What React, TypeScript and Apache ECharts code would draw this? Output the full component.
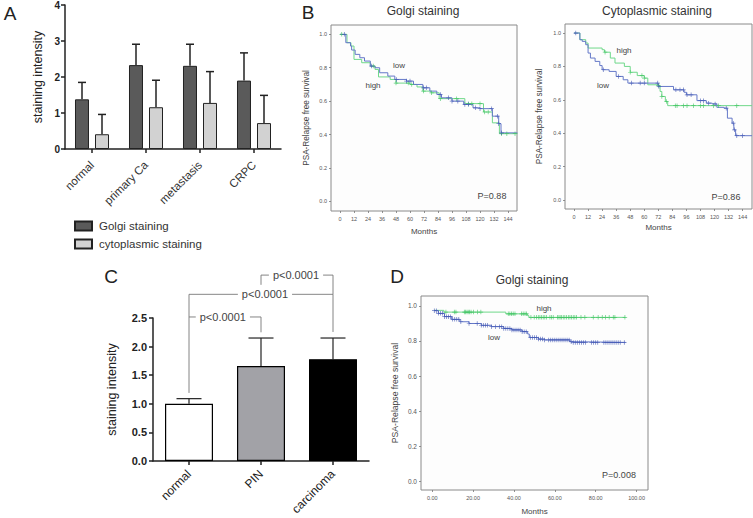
import React, { useEffect, useRef } from "react";
import * as echarts from "echarts";

// Panel A
const catsA = ["normal", "primary Ca", "metastasis", "CRPC"];
const golgiA = [1.38, 2.33, 2.31, 1.9];
const golgiTopA = [1.85, 2.91, 2.91, 2.67];
const cytoA = [0.41, 1.16, 1.28, 0.72];
const cytoTopA = [0.96, 1.91, 2.15, 1.49];

// Panel C
const catsC = ["normal", "PIN", "carcinoma"];
const valuesC = [1.0, 1.66, 1.78];
const topsC = [1.09, 2.15, 2.15];
const bracketPaths = [
  [[0, 1.19], [0, 2.914], [2, 2.914], [2, 2.256]],
  [[0, 2.518], [1, 2.518], [1, 2.25]],
  [[1, 3.08], [1, 3.25], [2, 3.25], [2, 2.914]],
];
const bracketLabels = [
  { text: "p<0.0001", cat: 1, frac: 0.055, y: 2.914 },
  { text: "p<0.0001", cat: 0, frac: 0.47, y: 2.518 },
  { text: "p<0.0001", cat: 1, frac: 0.486, y: 3.25 },
];

// Panel B left: Golgi
const bLow = [[0, 1], [5, 0.95], [9, 0.93], [10, 0.906], [13, 0.88], [17, 0.86], [21, 0.84], [26, 0.81], [30, 0.8], [34, 0.77], [41, 0.75], [47, 0.73], [57, 0.72], [63, 0.7], [71, 0.68], [77, 0.66], [83, 0.64], [87, 0.62], [96, 0.6], [106, 0.58], [114, 0.56], [120, 0.555], [130.6, 0.51], [136, 0.465], [138, 0.41], [152, 0.41]];
const bHigh = [[0, 1], [6, 0.95], [9.4, 0.93], [12, 0.85], [18.6, 0.83], [26, 0.81], [30, 0.79], [33, 0.745], [43, 0.73], [48, 0.708], [60, 0.7], [66, 0.685], [71, 0.66], [78, 0.65], [85, 0.615], [107, 0.585], [123, 0.535], [130.6, 0.47], [136.6, 0.405], [152, 0.405]];
const bLowCensor = [3.7, 27, 48.5, 57, 60, 71.5, 74, 86, 93, 96, 101, 107, 110, 116, 120, 130, 135, 136, 138.5];
const bHighCensor = [1.5, 28.5, 48, 58.5, 61.5, 71.5, 78.5, 86, 100, 110, 113, 120, 124, 127, 138.5, 143, 150];

// Panel B right: cytoplasmic
const cLow = [[0, 1], [5, 0.96], [7, 0.95], [10, 0.93], [12, 0.88], [14, 0.85], [18, 0.83], [22, 0.805], [24, 0.78], [30, 0.77], [36, 0.74], [42, 0.72], [46, 0.7], [72, 0.68], [85, 0.66], [94, 0.645], [96, 0.63], [105, 0.595], [113, 0.58], [118, 0.575], [122, 0.555], [128, 0.55], [131, 0.49], [135, 0.46], [136.5, 0.42], [138, 0.385], [152, 0.385]];
const cHigh = [[0, 1], [5, 0.96], [10, 0.94], [12, 0.91], [24, 0.9], [26, 0.885], [31, 0.85], [35, 0.82], [43, 0.8], [48, 0.765], [54, 0.745], [60, 0.73], [63, 0.69], [72, 0.685], [73.5, 0.65], [75, 0.62], [78, 0.59], [80, 0.565], [152, 0.565]];
const cLowCensor = [1.5, 25, 38, 49, 56.5, 60, 71.5, 72.5, 87, 90.5, 93.5, 96.5, 100, 108, 110.5, 115, 120.5, 130, 136, 137, 139, 144];
const cHighCensor = [26.5, 48, 58, 60, 72, 75, 79, 86.5, 88, 93.5, 96.5, 102, 108, 110.5, 119, 123.5, 139];

// Panel D
const dLow = [[1, 0.973], [3, 0.958], [6, 0.939], [9.5, 0.924], [13.5, 0.91], [18, 0.9], [24, 0.89], [29, 0.882], [35, 0.872], [39, 0.863], [44, 0.853], [46.7, 0.84], [47.5, 0.82], [52, 0.811], [55, 0.806], [67.4, 0.796], [68.2, 0.792], [94.6, 0.792]];
const dHigh = [[1, 0.975], [5.7, 0.965], [36, 0.955], [46.6, 0.945], [47.3, 0.935], [94.6, 0.935]];
const dLowCensor = [1, 2, 3, 4, 5, 6, 7, 8, 9, 10, 11, 12, 13, 14, 18, 22, 24, 25, 26, 27, 29, 31, 33, 34, 35, 36, 37, 38, 39, 40, 41, 42, 43, 44, 45, 46, 48, 49, 50, 51, 52, 53, 54, 55, 57, 58, 59, 60, 61, 62, 63, 64, 65, 66, 67, 68, 69, 70, 71, 72, 73, 74, 75, 78, 79, 80, 81, 84, 85, 86, 87, 88, 89, 90, 91, 92, 94];
const dHighCensor = [6.7, 10.8, 11.6, 15.7, 16.3, 17, 17.6, 18.3, 19, 20.2, 22.2, 23.8, 37.2, 38, 38.8, 39.6, 40.5, 43.7, 44.5, 45.4, 46.2, 48.3, 49.9, 51, 51.9, 52.7, 53.5, 54.3, 55.1, 56, 57.6, 58.4, 59.2, 61.3, 62, 62.6, 63.3, 64.1, 64.9, 65.7, 66.6, 67.4, 68.2, 69, 69.8, 70.6, 72.8, 74.7, 78.8, 81.2, 83.2, 84.8, 86.6, 88.6, 89.4, 94.3];

const ticks12 = [0, 12, 24, 36, 48, 60, 72, 84, 96, 108, 120, 132, 144];
const ticks20 = [0, 20, 40, 60, 80, 100];
const ticksSurv = [0, 0.2, 0.4, 0.6, 0.8, 1.0];

const FONT = '"Liberation Sans", Arial, sans-serif';
const BLUE = "#6478c8";
const GREEN = "#6fd88a";
const BLUE_MARK = "#4257b4";
const GREEN_MARK = "#3fc462";
const PLUS = "path://M-0.8 -5H0.8V-0.8H5V0.8H0.8V5H-0.8V0.8H-5V-0.8H-0.8Z";

const stepAt = (curve: number[][], m: number) => {
  let v = curve[0][1];
  for (const p of curve) if (p[0] <= m) v = p[1];
  return v;
};

type KM = {
  grid: number;
  box: { left: number; top: number; width: number; height: number };
  xRange: [number, number];
  yRange: [number, number];
  xTicks: number[];
  xFmt: (v: number) => string;
  yGap: number;
  xGap: number;
  low: number[][];
  high: number[][];
  lowCensor: number[];
  highCensor: number[];
  yNameSize: number;
  yTickSize: number;
};

function kmParts(k: KM) {
  const grid = {
    ...k.box,
    show: true,
    backgroundColor: "#fdfdfd",
    borderColor: "#8a8a8a",
    borderWidth: 1,
    containLabel: false,
    outerBoundsMode: "none",
  };
  const xAxis = {
    type: "value",
    gridIndex: k.grid,
    min: k.xRange[0],
    max: k.xRange[1],
    name: "Months",
    nameLocation: "middle",
    nameGap: k.xGap,
    nameTextStyle: { fontFamily: FONT, fontSize: 8, color: "#444" },
    axisLine: { show: false, onZero: false },
    axisTick: { show: true, length: 2, customValues: k.xTicks, lineStyle: { color: "#777", width: 0.8 } },
    axisLabel: { customValues: k.xTicks, formatter: k.xFmt, fontFamily: FONT, fontSize: 5.5, color: "#555", margin: 5 },
    splitLine: { show: false },
  };
  const yAxis = {
    type: "value",
    gridIndex: k.grid,
    min: k.yRange[0],
    max: k.yRange[1],
    name: "PSA-Relapse free survival",
    nameLocation: "middle",
    nameGap: k.yGap,
    nameTextStyle: { fontFamily: FONT, fontSize: k.yNameSize, color: "#444" },
    axisLine: { show: false, onZero: false },
    axisTick: { show: true, length: 2, customValues: ticksSurv, lineStyle: { color: "#777", width: 0.8 } },
    axisLabel: { customValues: ticksSurv, formatter: (v: number) => v.toFixed(1), fontFamily: FONT, fontSize: k.yTickSize, color: "#555", margin: 4 },
    splitLine: { show: false },
  };
  const line = (name: string, data: number[][], color: string) => ({
    type: "line",
    name,
    step: "end",
    xAxisIndex: k.grid,
    yAxisIndex: k.grid,
    data,
    showSymbol: false,
    symbol: "none",
    lineStyle: { color, width: 1 },
    z: 3,
  });
  const marks = (name: string, months: number[], curve: number[][], color: string) => ({
    type: "scatter",
    name,
    xAxisIndex: k.grid,
    yAxisIndex: k.grid,
    data: months.map((m) => [m, stepAt(curve, m)]),
    symbol: PLUS,
    symbolSize: 4.5,
    itemStyle: { color },
    z: 4,
  });
  const id = `km${k.grid}`;
  return {
    grid,
    xAxis,
    yAxis,
    series: [
      line(`${id} high`, k.high, GREEN),
      line(`${id} low`, k.low, BLUE),
      marks(`${id} high censored`, k.highCensor, k.high, GREEN_MARK),
      marks(`${id} low censored`, k.lowCensor, k.low, BLUE_MARK),
    ],
  };
}

const errorSeries = (name: string, xi: number, yi: number, tops: number[], bases: number[], offset: number, cap: number, width: number) => ({
  type: "custom",
  name,
  xAxisIndex: xi,
  yAxisIndex: yi,
  data: tops.map((t, i) => [i, bases[i], t]),
  encode: { x: 0, y: [1, 2] },
  z: 1,
  renderItem: (_: any, api: any) => {
    const base = api.coord([api.value(0), api.value(1)]);
    const top = api.coord([api.value(0), api.value(2)]);
    const x = base[0] + offset;
    const style = { stroke: "#222", lineWidth: width, fill: "none" };
    return {
      type: "group",
      children: [
        { type: "line", shape: { x1: x, y1: base[1], x2: x, y2: top[1] }, style },
        { type: "line", shape: { x1: x - cap, y1: top[1], x2: x + cap, y2: top[1] }, style },
      ],
    };
  },
});

const barAxisStyle = {
  axisLine: { show: true, onZero: false, lineStyle: { color: "#222", width: 1.5 } },
  axisTick: { show: true, length: 4, lineStyle: { color: "#222", width: 1.5 } },
  splitLine: { show: false },
};

const annot = (text: string, x: number, y: number, fontSize = 8, fill = "#444") => ({
  type: "text",
  x,
  y,
  style: { text, fontFamily: FONT, fontSize, fill, align: "center", verticalAlign: "middle" },
});

function buildOption() {
  const kmB = kmParts({
    grid: 2,
    box: { left: 331, top: 25, width: 186, height: 186 },
    xRange: [-7.7, 151.7],
    yRange: [-0.058, 1.056],
    xTicks: ticks12,
    xFmt: (v) => String(v),
    yGap: 21,
    xGap: 16,
    low: bLow,
    high: bHigh,
    lowCensor: bLowCensor,
    highCensor: bHighCensor,
    yNameSize: 8.2,
    yTickSize: 5.5,
  });
  const kmC = kmParts({
    grid: 3,
    box: { left: 565, top: 24, width: 187, height: 185 },
    xRange: [-7.7, 152],
    yRange: [-0.054, 1.054],
    xTicks: ticks12,
    xFmt: (v) => String(v),
    yGap: 22,
    xGap: 14,
    low: cLow,
    high: cHigh,
    lowCensor: cLowCensor,
    highCensor: cHighCensor,
    yNameSize: 8.2,
    yTickSize: 5.5,
  });
  const kmD = kmParts({
    grid: 4,
    box: { left: 421, top: 296, width: 227, height: 194 },
    xRange: [-5.5, 105.6],
    yRange: [-0.051, 1.057],
    xTicks: ticks20,
    xFmt: (v) => v.toFixed(2),
    yGap: 22,
    xGap: 17,
    low: dLow,
    high: dHigh,
    lowCensor: dLowCensor,
    highCensor: dHighCensor,
    yNameSize: 8.6,
    yTickSize: 6.5,
  });

  return {
    animation: false,
    backgroundColor: "#fff",
    title: [
      { text: "Golgi staining", left: 418, top: 0, textAlign: "center", textStyle: { fontFamily: FONT, fontSize: 12, fontWeight: "normal", color: "#333" } },
      { text: "Cytoplasmic staining", left: 652, top: 0, textAlign: "center", textStyle: { fontFamily: FONT, fontSize: 12, fontWeight: "normal", color: "#333" } },
      { text: "Golgi staining", left: 527, top: 269, textAlign: "center", textStyle: { fontFamily: FONT, fontSize: 12, fontWeight: "normal", color: "#333" } },
    ],
    legend: {
      left: 74,
      top: 220,
      orient: "vertical",
      icon: "rect",
      itemWidth: 17,
      itemHeight: 9,
      itemGap: 6,
      padding: 0,
      selectedMode: false,
      data: ["Golgi staining", "cytoplasmic staining"],
      textStyle: { fontFamily: FONT, fontSize: 11.5, color: "#333", padding: [0, 0, 0, 2] },
    },
    grid: [
      { left: 65, top: 5, width: 216, height: 144, outerBoundsMode: "none" },
      { left: 153, top: 318, width: 216, height: 143, outerBoundsMode: "none" },
      kmB.grid,
      kmC.grid,
      kmD.grid,
    ],
    xAxis: [
      {
        type: "category", gridIndex: 0, data: catsA, ...barAxisStyle,
        axisTick: { ...barAxisStyle.axisTick, alignWithLabel: true },
        axisLabel: { rotate: 45, fontFamily: FONT, fontSize: 11.5, color: "#333", margin: 14 },
      },
      {
        type: "category", gridIndex: 1, data: catsC, ...barAxisStyle,
        axisTick: { ...barAxisStyle.axisTick, alignWithLabel: true },
        axisLabel: { rotate: 45, fontFamily: FONT, fontSize: 12, fontWeight: 500, color: "#222", margin: 11 },
      },
      kmB.xAxis,
      kmC.xAxis,
      kmD.xAxis,
    ],
    yAxis: [
      {
        type: "value", gridIndex: 0, min: 0, max: 4, interval: 1, ...barAxisStyle,
        name: "staining intensity", nameLocation: "middle", nameGap: 21,
        nameTextStyle: { fontFamily: FONT, fontSize: 12.5, color: "#222" },
        axisLabel: { fontFamily: FONT, fontSize: 10, fontWeight: "bold", color: "#222", margin: 5 },
      },
      {
        type: "value", gridIndex: 1, min: 0, max: 2.5, interval: 0.5, ...barAxisStyle,
        name: "staining intensity", nameLocation: "middle", nameGap: 35,
        nameTextStyle: { fontFamily: FONT, fontSize: 12.5, color: "#222" },
        axisLabel: { formatter: (v: number) => v.toFixed(1), fontFamily: FONT, fontSize: 11, fontWeight: "bold", color: "#222", margin: 6 },
      },
      kmB.yAxis,
      kmC.yAxis,
      kmD.yAxis,
    ],
    series: [
      errorSeries("Golgi error", 0, 0, golgiTopA, golgiA, -10, 4, 1.5),
      errorSeries("Cytoplasmic error", 0, 0, cytoTopA, cytoA, 10, 4, 1.5),
      {
        type: "bar", name: "Golgi staining", xAxisIndex: 0, yAxisIndex: 0, data: golgiA, barWidth: 14, barGap: "43%", z: 2,
        itemStyle: { color: "#5a5a5a", borderColor: "#222", borderWidth: 1 },
      },
      {
        type: "bar", name: "cytoplasmic staining", xAxisIndex: 0, yAxisIndex: 0, data: cytoA, barWidth: 14, barGap: "43%", z: 2,
        itemStyle: { color: "#d2d2d2", borderColor: "#222", borderWidth: 1 },
      },
      errorSeries("C error", 1, 1, topsC, valuesC, 0, 12.5, 1.2),
      {
        type: "bar", name: "C staining", xAxisIndex: 1, yAxisIndex: 1, barWidth: 48, z: 2,
        data: valuesC.map((v, i) => ({ value: v, itemStyle: { color: ["#ffffff", "#a2a2a7", "#000000"][i] } })),
        itemStyle: { borderColor: "#000", borderWidth: 1.2 },
      },
      {
        type: "custom", name: "brackets", xAxisIndex: 1, yAxisIndex: 1, z: 1,
        data: bracketPaths.map((p, i) => [p[0][0], p[0][1], i]),
        encode: { x: 0, y: 1 },
        renderItem: (params: any, api: any) => ({
          type: "polyline",
          shape: { points: bracketPaths[params.dataIndex].map((p) => api.coord(p)) },
          style: { stroke: "#777", lineWidth: 0.9, fill: "none" },
        }),
      },
      {
        type: "custom", name: "bracket labels", xAxisIndex: 1, yAxisIndex: 1, z: 5,
        data: bracketLabels.map((l) => [l.cat, l.y]),
        encode: { x: 0, y: 1 },
        renderItem: (params: any, api: any) => {
          const l = bracketLabels[params.dataIndex];
          const a = api.coord([l.cat, l.y]);
          const b = api.coord([l.cat + 1, l.y]);
          return {
            type: "text",
            x: a[0] + (b[0] - a[0]) * l.frac,
            y: a[1],
            style: {
              text: l.text,
              fontFamily: FONT, fontSize: 11, fill: "#444",
              align: "center", verticalAlign: "middle",
              backgroundColor: "#fff", padding: [0, 4],
            },
          };
        },
      },
      ...kmB.series,
      ...kmC.series,
      ...kmD.series,
    ],
    graphic: [
      annot("A", 10, 13, 19, "#222"),
      annot("B", 308, 12, 19, "#222"),
      annot("C", 111, 276, 19, "#222"),
      annot("D", 397, 276, 19, "#222"),
      annot("low", 399, 65),
      annot("high", 373, 85),
      annot("P=0.88", 492, 196, 9),
      annot("high", 624, 50),
      annot("low", 603, 85),
      annot("P=0.86", 726, 197, 9),
      annot("high", 544, 308),
      annot("low", 494, 337),
      annot("P=0.008", 619, 475, 9),
    ],
  };
}

export default function App() {
  const ref = useRef<HTMLDivElement>(null);
  useEffect(() => {
    const chart = echarts.init(ref.current!, undefined, { renderer: "svg" });
    chart.setOption(buildOption() as any);
    return () => chart.dispose();
  }, []);
  return <div ref={ref} style={{ position: "absolute", left: 0, top: 0, width: 753, height: 518 }} />;
}
